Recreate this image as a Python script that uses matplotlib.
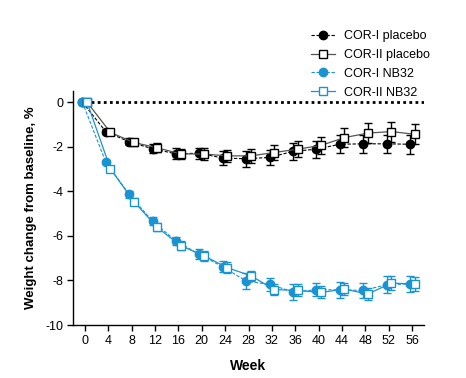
import matplotlib
matplotlib.use("Agg")
import matplotlib.pyplot as plt
import numpy as np

plt.rcParams['font.family'] = ['Liberation Sans', 'DejaVu Sans']

weeks = [0, 4, 8, 12, 16, 20, 24, 28, 32, 36, 40, 44, 48, 52, 56]

cor1_placebo = [0, -1.32, -1.78, -2.09, -2.32, -2.29, -2.51, -2.54, -2.48, -2.21, -2.11, -1.89, -1.87, -1.87, -1.89]
cor1_placebo_err = [0, 0.1, 0.15, 0.2, 0.25, 0.25, 0.3, 0.35, 0.35, 0.37, 0.38, 0.4, 0.4, 0.4, 0.43]
cor2_placebo = [0, -1.36, -1.81, -2.05, -2.32, -2.33, -2.41, -2.41, -2.26, -2.11, -1.94, -1.59, -1.39, -1.32, -1.44]
cor2_placebo_err = [0, 0.1, 0.15, 0.2, 0.22, 0.25, 0.28, 0.3, 0.32, 0.35, 0.38, 0.42, 0.44, 0.45, 0.46]
cor1_nb32 = [0, -2.69, -4.14, -5.34, -6.23, -6.83, -7.39, -8.03, -8.18, -8.51, -8.42, -8.42, -8.45, -8.19, -8.16]
cor1_nb32_err = [0, 0.1, 0.15, 0.18, 0.2, 0.22, 0.25, 0.37, 0.3, 0.37, 0.3, 0.35, 0.33, 0.38, 0.37]
cor2_nb32 = [0, -2.99, -4.46, -5.62, -6.44, -6.9, -7.43, -7.79, -8.41, -8.45, -8.54, -8.39, -8.61, -8.12, -8.16]
cor2_nb32_err = [0, 0.1, 0.15, 0.18, 0.2, 0.22, 0.25, 0.22, 0.25, 0.27, 0.27, 0.27, 0.25, 0.3, 0.3]

xticks = [0, 4, 8, 12, 16, 20, 24, 28, 32, 36, 40, 44, 48, 52, 56]
yticks = [0, -2, -4, -6, -8, -10]

blue = '#1a93d3'
w = np.array(weeks, dtype=float)
off = 0.4

fig = plt.figure(figsize=(4.66, 3.78), dpi=100)
ax = fig.add_axes([73/466, 53/378, (424-73)/466, (325-91)/378])

ax.plot([0, 58], [0, 0], color='black', linestyle=(0, (1, 1.2)), linewidth=2.0, zorder=1)

ms = 6.0
h1 = ax.errorbar(w - off, cor1_placebo, yerr=cor1_placebo_err, color='black', linestyle='--',
                 dashes=(3, 1.5), linewidth=0.8, marker='o', markersize=ms, markerfacecolor='black',
                 markeredgecolor='black', ecolor='black', elinewidth=1.0, capsize=3, capthick=1.0,
                 label='COR-I placebo', zorder=3)
h2 = ax.errorbar(w + off, cor2_placebo, yerr=cor2_placebo_err, color='#555555', linestyle='-',
                 linewidth=0.9, marker='s', markersize=ms, markerfacecolor='white',
                 markeredgecolor='black', markeredgewidth=1.0, ecolor='black', elinewidth=1.0,
                 capsize=3, capthick=1.0, label='COR-II placebo', zorder=4)
h3 = ax.errorbar(w - off, cor1_nb32, yerr=cor1_nb32_err, color=blue, linestyle='--',
                 dashes=(3, 1.5), linewidth=0.8, marker='o', markersize=ms, markerfacecolor=blue,
                 markeredgecolor=blue, ecolor=blue, elinewidth=1.0, capsize=3, capthick=1.0,
                 label='COR-I NB32', zorder=3)
h4 = ax.errorbar(w + off, cor2_nb32, yerr=cor2_nb32_err, color=blue, linestyle='-',
                 linewidth=0.9, marker='s', markersize=ms, markerfacecolor='white',
                 markeredgecolor=blue, markeredgewidth=1.0, ecolor=blue, elinewidth=1.0,
                 capsize=3, capthick=1.0, label='COR-II NB32', zorder=4)

ax.set_xlim(-2, 58)
ax.set_ylim(-10, 0.5)
ax.set_xticks(xticks)
ax.set_yticks(yticks)
ax.set_xticklabels([str(t) for t in xticks])
ax.set_yticklabels([str(t) for t in yticks])
ax.spines['top'].set_visible(False)
ax.spines['right'].set_visible(False)
for s in ['left', 'bottom']:
    ax.spines[s].set_linewidth(1.0)
ax.tick_params(axis='both', direction='out', length=4, width=1.0, labelsize=9, pad=3)
ax.set_xlabel('Week', fontsize=10, fontweight='bold', labelpad=9)
ax.set_ylabel('Weight change from baseline, %', fontsize=9.5, fontweight='bold', labelpad=6)

handles = [h1[0], h2[0], h3[0], h4[0]]
labels = ['COR-I placebo', 'COR-II placebo', 'COR-I NB32', 'COR-II NB32']
leg = fig.legend(handles=handles, labels=labels, loc='upper left', bbox_to_anchor=(306/466, 1 - 25/378),
                 frameon=False, fontsize=9, handlelength=1.9, handletextpad=0.7,
                 labelspacing=0.55, borderaxespad=0)

fig.savefig('out.png', dpi=100)
